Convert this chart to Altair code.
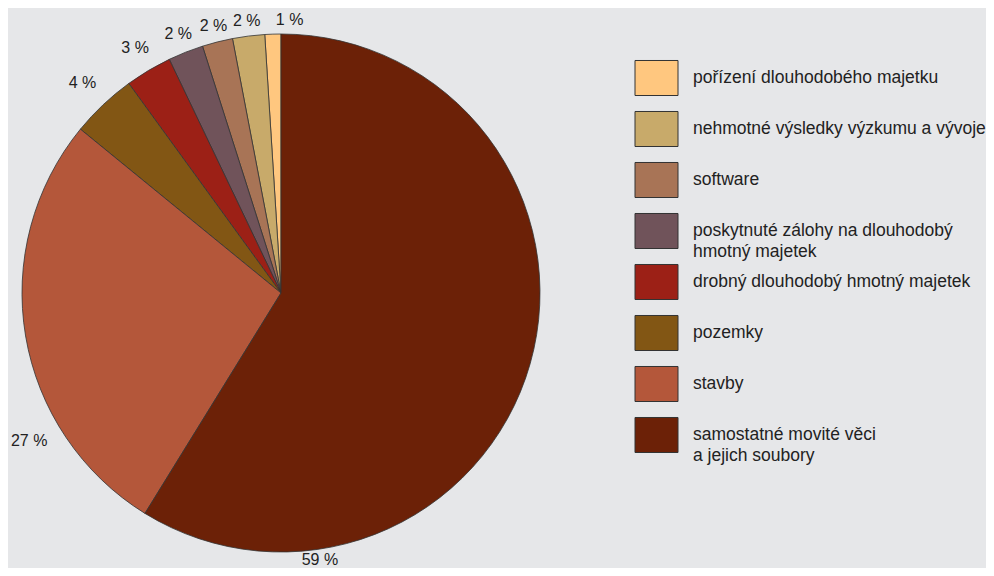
import altair as alt
import pandas as pd

# Legend order (top to bottom); the pie runs clockwise from 12 o'clock in reverse order
categories = [
    "pořízení dlouhodobého majetku",
    "nehmotné výsledky výzkumu a vývoje",
    "software",
    "poskytnuté zálohy na dlouhodobý|hmotný majetek",
    "drobný dlouhodobý hmotný majetek",
    "pozemky",
    "stavby",
    "samostatné movité věci|a jejich soubory",
]
values = [1.0, 2.0, 1.9, 2.2, 2.9, 4.1, 27.1, 58.8]
colors = ["#ffc77f", "#c8aa6a", "#a87456", "#70535a", "#9c2016", "#825614", "#b4573a", "#6c2107"]

# label placement style (best-fit style nudges, in percent of the circle / pixel radius)
LABEL_NUDGE = {0: 1.0, 6: -5.8, 7: 18.3}
LABEL_RADIUS = {0: 273, 1: 274, 2: 275, 3: 279, 4: 285, 5: 289, 6: 292, 7: 270}

df = pd.DataFrame({
    "cat": categories,
    "value": values,
    "idx": list(range(len(categories))),
})
df["label"] = df["value"].round().astype(int).astype(str) + " %"
# cumulative position in pie order (idx descending)
pie_order = df.sort_values("idx", ascending=False)
cum = pie_order["value"].cumsum()
df["mid"] = (cum - pie_order["value"] / 2).reindex(df.index)
df["lab_theta"] = df["mid"] + df["idx"].map(LABEL_NUDGE).fillna(0)
df["lab_r"] = df["idx"].map(LABEL_RADIUS)

FONT = "Liberation Sans, Arial"
CX, CY, R = 273, 285, 259

color_scale = alt.Scale(domain=categories, range=colors)
theta_scale = alt.Scale(domain=[0, 100])

pie = alt.Chart(df).mark_arc(radius=R, stroke="#333333", strokeWidth=0.8).encode(
    theta=alt.Theta("value:Q", stack=True, scale=theta_scale),
    order=alt.Order("idx:Q", sort="descending"),
    color=alt.Color("cat:N", scale=color_scale, legend=None),
    x=alt.value(CX),
    y=alt.value(CY),
)

labels = alt.Chart(df).mark_text(font=FONT, fontSize=16, color="#222222").encode(
    theta=alt.Theta("lab_theta:Q", stack=False, scale=theta_scale),
    radius=alt.Radius("lab_r:Q", scale=None),
    x=alt.value(CX),
    y=alt.value(CY),
    text="label:N",
)

legend_y = alt.Y("idx:O", scale=alt.Scale(type="point", range=[70, 427], padding=0), axis=None)

legend_sym = alt.Chart(df).mark_point(
    shape="M-1,-0.814L1,-0.814L1,0.814L-1,0.814Z",
    size=1849,
    filled=True,
    opacity=1,
    stroke="#333333",
    strokeWidth=1,
).encode(
    x=alt.value(648.5),
    y=legend_y,
    color=alt.Color("cat:N", scale=color_scale, legend=None),
)

legend_txt = alt.Chart(df).mark_text(
    align="left",
    baseline="middle",
    lineBreak="|",
    lineHeight=21,
    font=FONT,
    fontSize=17.5,
    color="#222222",
).encode(
    x=alt.value(685),
    y=legend_y,
    text="cat:N",
)

chart = (
    alt.layer(pie, labels, legend_sym, legend_txt)
    .properties(
        width=978,
        height=560,
        autosize=alt.AutoSizeParams(type="none"),
        padding=0,
        background="#e6e7e9",
    )
    .configure_view(stroke=None)
)

chart.save("out.html", embed_options={"renderer": "svg", "actions": False})
